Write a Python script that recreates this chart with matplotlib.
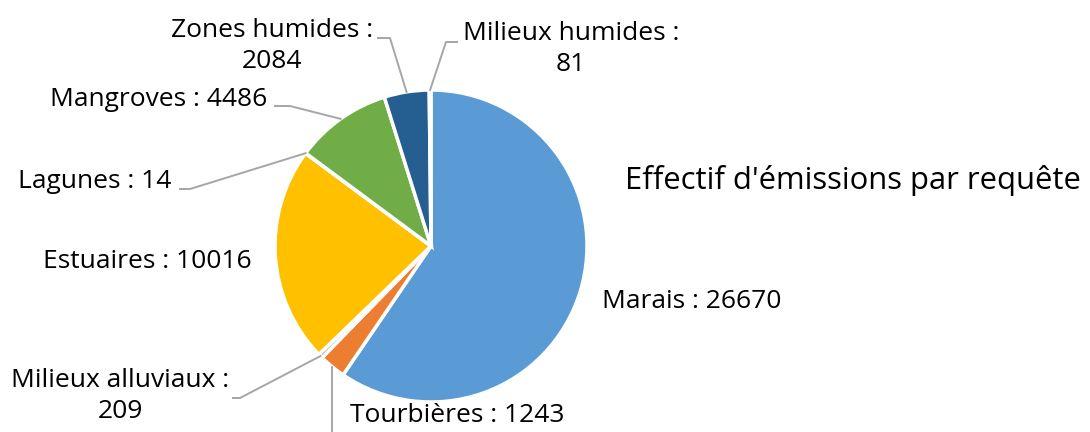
import numpy as np
import matplotlib.pyplot as plt

plt.rcParams["font.family"] = ["Open Sans", "DejaVu Sans"]

categories = ["Marais", "Tourbières", "Milieux alluviaux", "Estuaires",
              "Lagunes", "Mangroves", "Zones humides", "Milieux humides"]
values = [26670, 1243, 209, 10016, 14, 4486, 2084, 81]
colors = ["#5B9BD5", "#ED7D31", "#A5A5A5", "#FFC000",
          "#4472C4", "#70AD47", "#255E91", "#9E480E"]
title = "Effectif d'émissions par requête"

W, H = 1090, 432
fig = plt.figure(figsize=(W / 100, H / 100), dpi=100)
ax = fig.add_axes([0, 0, 1, 1])

cx, cy, r = 431, 186, 156
wedges, _ = ax.pie(values, colors=colors, startangle=90, counterclock=False,
                   center=(cx, cy), radius=r, frame=True,
                   wedgeprops=dict(edgecolor="white", linewidth=2.5))
ax.set_xlim(0, W)
ax.set_ylim(0, H)
ax.axis("off")


def anchor(i):
    w = wedges[i]
    t = np.deg2rad((w.theta1 + w.theta2) / 2)
    return cx + r * np.cos(t), cy + r * np.sin(t)


# label text, centre and leader-line elbow points
fs = 19
labels = {
    0: (f"Marais : {values[0]}", (692, 131), None),
    1: (f"Tourbières : {values[1]}", (457, 16), "down"),
    2: (f"Milieux alluviaux :\n{values[2]}", (120, 36), [(233, 34), (240, 34)]),
    3: (f"Estuaires : {values[3]}", (147, 171), None),
    4: (f"Lagunes : {values[4]}", (95, 251), [(180, 243), (190, 243)]),
    5: (f"Mangroves : {values[5]}", (159, 332), [(275, 326), (290, 326)]),
    6: (f"Zones humides :\n{values[6]}", (272, 386), [(378, 394), (390, 394)]),
    7: (f"Milieux humides :\n{values[7]}", (571, 383), [(457, 390), (446, 390)]),
}

for i, (txt, (x, y), elbow) in labels.items():
    ax.text(x, y, txt, ha="center", va="center", fontsize=fs,
            color="#000000", linespacing=1.3)
    ax_, ay_ = anchor(i)
    if elbow == "down":
        ax.plot([ax_, ax_], [ay_, -10], color="#A6A6A6", lw=1.4,
                clip_on=False)
    elif elbow is not None:
        xs = [p[0] for p in elbow] + [ax_]
        ys = [p[1] for p in elbow] + [ay_]
        ax.plot(xs, ys, color="#A6A6A6", lw=1.4)

ax.text(625, 252, title, ha="left", va="center", fontsize=22.3, color="#000000")

fig.savefig("out.png", dpi=100)
